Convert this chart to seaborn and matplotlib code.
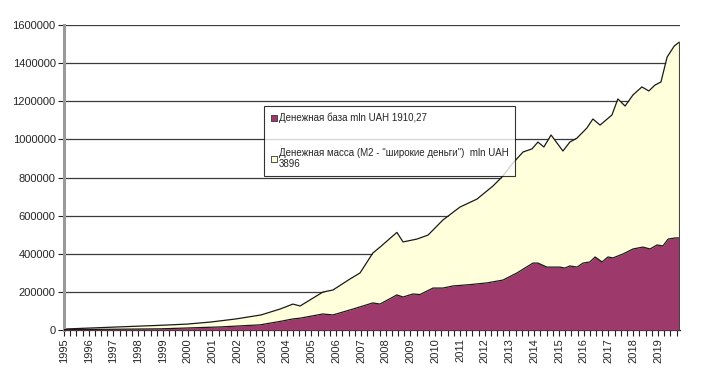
import numpy as np
import pandas as pd
import matplotlib
matplotlib.use('Agg')
import matplotlib.pyplot as plt
from matplotlib.lines import Line2D
from matplotlib.ticker import MultipleLocator, FuncFormatter
import seaborn as sns

# ---- data (decimal years, mln UAH) ----
m2_year = [1995.00, 1996.98, 1998.96, 1999.97, 2000.94, 2001.95, 2002.96, 2003.73,
           2004.25, 2004.54, 2005.46, 2005.87, 2006.56, 2006.96, 2007.48, 2007.77,
           2008.45, 2008.70, 2009.26, 2009.71, 2010.31, 2011.00, 2011.69, 2011.81,
           2012.33, 2012.70, 2013.14, 2013.55, 2013.91, 2014.15, 2014.39, 2014.68,
           2015.16, 2015.44, 2015.73, 2016.13, 2016.37, 2016.66, 2017.14, 2017.38,
           2017.67, 2017.99, 2018.35, 2018.63, 2018.88, 2019.12, 2019.37, 2019.66,
           2019.86]
m2_value = [5000, 15000, 25000, 31000, 42000, 58000, 79000, 110000,
            136000, 126000, 199000, 210000, 268000, 299000, 404000, 435000,
            512000, 462000, 477000, 498000, 577000, 645000, 687000, 700000,
            755000, 803000, 876000, 934000, 950000, 986000, 960000, 1023000,
            939000, 986000, 1007000, 1060000, 1107000, 1075000, 1128000, 1212000,
            1175000, 1233000, 1275000, 1254000, 1285000, 1301000, 1432000, 1490000,
            1510000]

m0_year = [1995.00, 1996.98, 1998.88, 2001.30, 2002.92, 2003.73, 2004.25, 2004.54,
           2005.46, 2005.87, 2006.68, 2007.48, 2007.77, 2008.45, 2008.70, 2009.10,
           2009.38, 2009.91, 2010.31, 2010.72, 2011.40, 2012.09, 2012.74, 2013.30,
           2013.95, 2014.15, 2014.51, 2015.04, 2015.24, 2015.44, 2015.73, 2015.97,
           2016.25, 2016.46, 2016.74, 2016.98, 2017.18, 2017.59, 2017.99, 2018.39,
           2018.68, 2018.96, 2019.20, 2019.41, 2019.70, 2019.86]
m0_value = [2000, 4000, 6000, 16000, 27000, 45000, 58000, 62000,
            84000, 79000, 110000, 142000, 136000, 184000, 173000, 189000,
            186000, 220000, 220000, 231000, 238000, 247000, 262000, 299000,
            351000, 351000, 330000, 330000, 325000, 336000, 330000, 351000,
            357000, 383000, 357000, 383000, 378000, 399000, 425000, 435000,
            425000, 446000, 441000, 477000, 483000, 483000]

years = list(range(1995, 2020))
label_m0 = 'Денежная база mln UAH 1910,27'
label_m2 = 'Денежная масса (М2 - "широкие деньги")  mln UAH\n3896'

COLOR_M2 = '#FFFFDC'
COLOR_M0 = '#9E3A6B'

m2 = pd.DataFrame({'year': m2_year, 'value': m2_value})
m0 = pd.DataFrame({'year': m0_year, 'value': m0_value})

sns.set_style("white")
plt.rcParams['font.family'] = ['Liberation Sans', 'DejaVu Sans']

fig = plt.figure(figsize=(7.02, 3.78), dpi=100)
ax = fig.add_axes([64 / 702, 1 - 330 / 378, 616 / 702, 305 / 378])

# grid lines behind the areas
for v in range(200000, 1600001, 200000):
    ax.axhline(v, color='#3a3a3a', lw=0.9, zorder=0)

# areas (overlapping, M2 behind M0)
ax.fill_between(m2['year'], m2['value'], color=COLOR_M2, zorder=1, lw=0)
sns.lineplot(data=m2, x='year', y='value', ax=ax, color='#1a1a1a', lw=0.9,
             zorder=2, estimator=None, sort=False)
ax.fill_between(m0['year'], m0['value'], color=COLOR_M0, zorder=3, lw=0)
sns.lineplot(data=m0, x='year', y='value', ax=ax, color='#1a1a1a', lw=0.9,
             zorder=4, estimator=None, sort=False)
ax.vlines(m2_year[-1], 0, m2_value[-1], color='#444444', lw=0.8, zorder=4)

ax.set_xlim(1995, 2019.89)
ax.set_ylim(0, 1600000)

# axes styling (Excel-like)
for s in ['top', 'right']:
    ax.spines[s].set_visible(False)
ax.spines['left'].set_color('#9a9a9a')
ax.spines['left'].set_linewidth(2.2)
ax.spines['bottom'].set_color('#222222')
ax.spines['bottom'].set_linewidth(0.9)

ax.set_yticks(range(0, 1600001, 200000))
ax.yaxis.set_major_formatter(FuncFormatter(lambda v, p: f'{int(v)}'))
ax.set_xticks(years)
ax.set_xticklabels([str(y) for y in years], rotation=90)
ax.xaxis.set_minor_locator(MultipleLocator(0.25))
ax.tick_params(axis='both', which='both', direction='out', length=4,
               width=0.8, color='#222222', labelsize=8, pad=2,
               bottom=True, left=True)
ax.set_xlabel('')
ax.set_ylabel('')
ax.grid(False)

# legend
handles = [
    Line2D([], [], ls='none', marker='s', markersize=4.5,
           markerfacecolor=COLOR_M0, markeredgecolor='#333333', markeredgewidth=0.6),
    Line2D([], [], ls='none', marker='s', markersize=4.5,
           markerfacecolor=COLOR_M2, markeredgecolor='#333333', markeredgewidth=0.6),
]
leg = ax.legend(handles, [label_m0, label_m2], loc='upper left',
                bbox_to_anchor=(264 / 702, 1 - 106 / 378),
                bbox_transform=fig.transFigure, frameon=True, fancybox=False,
                fontsize=7.0, handlelength=0.6, handletextpad=0.2,
                labelspacing=2.5, borderpad=0.7, borderaxespad=0)
leg.get_frame().set_edgecolor('#000000')
leg.get_frame().set_linewidth(0.8)
leg.set_zorder(10)

plt.savefig('out.png', dpi=100)
plt.close()
